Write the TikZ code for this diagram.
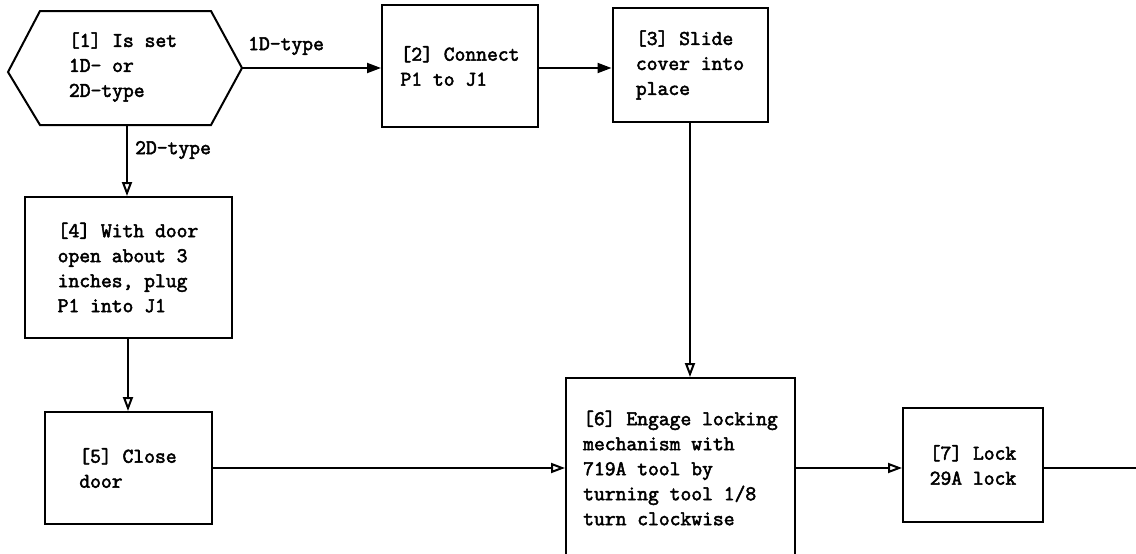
\documentclass[tikz,border=0pt]{standalone}
\usepackage{fontspec}
\newfontfamily\twfont{Latin Modern Mono}[FakeBold=2.5]
\usetikzlibrary{arrows.meta}
\begin{document}
\begin{tikzpicture}[x=1pt,y=-1pt,
  txt/.style={font=\fontsize{21}{25}\selectfont\twfont, align=left, inner sep=0pt},
  stepbox/.style={draw, line width=2pt, txt},
  conn/.style={line width=2pt},
  fillarr/.style={conn, -{Triangle[length=14pt,width=10pt]}},
  openarr/.style={conn, -{Triangle[length=14pt,width=10pt,fill=white]}},
  lbl/.style={txt, anchor=west}]
\useasboundingbox (0,0) rectangle (1136,554);
\clip (0,0) rectangle (1136,554);
% hexagon
\draw[line width=2pt] (8,72) -- (40,11) -- (211,11) -- (242,68) -- (211,125) -- (40,125) -- cycle;
\coordinate (h-e) at (242,68);
\coordinate (h-s) at (127,125);
\node[txt] (n1) at (123,67) {[1] Is set\\1D- or\\2D-type};
% boxes
\node[stepbox, minimum width=156pt, minimum height=122pt] (n2) at (460,66) {[2] Connect\\P1 to J1};
\node[stepbox, minimum width=155pt, minimum height=114pt] (n3) at (690,65) {[3] Slide\\cover into\\place};
\node[stepbox, minimum width=207pt, minimum height=141pt] (n4) at (128,267.5) {[4] With door\\open about 3\\inches, plug\\P1 into J1};
\node[stepbox, minimum width=167pt, minimum height=112pt] (n5) at (128,468) {[5] Close\\door};
\node[stepbox, minimum width=229pt, minimum height=180pt] (n6) at (680.5,468) {[6] Engage locking\\mechanism with\\719A tool by\\turning tool 1/8\\turn clockwise};
\node[stepbox, minimum width=140pt, minimum height=114pt] (n7) at (973,465) {[7] Lock\\29A lock};
\coordinate (out) at (1140,468);
% connectors
\draw[fillarr] (h-e) -- (h-e -| n2.west);
\node[lbl] (l1) at (248,46) {1D-type};
\draw[fillarr] (n2.east |- 0,68) -- (n3.west |- 0,68);
\draw[openarr] (h-s) -- (h-s |- n4.north);
\node[lbl] (l2) at (135,150) {2D-type};
\draw[openarr] (n4.south) -- (n5.north);
\draw[openarr] (n3.south) -- (n3.south |- n6.north);
\draw[openarr] (n5.east) -- (n5.east -| n6.west);
\draw[openarr] (n6.east |- 0,468) -- (n7.west |- 0,468);
\draw[conn] (n7.east |- 0,468) -- (out);
\end{tikzpicture}
\end{document}
